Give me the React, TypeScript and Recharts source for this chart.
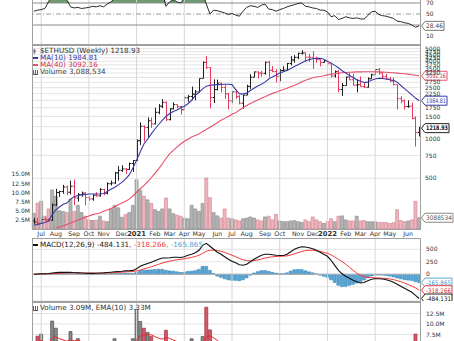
import React from 'react';
import { ComposedChart, Bar, Line, Area, XAxis, YAxis, CartesianGrid, ReferenceLine, ReferenceDot, Cell } from 'recharts';

const FONT = '"DejaVu Sans", Verdana, sans-serif';

const weeks = [
  '2020-06-15','2020-06-22','2020-06-29','2020-07-06','2020-07-13','2020-07-20','2020-07-27','2020-08-03','2020-08-10','2020-08-17',
  '2020-08-24','2020-08-31','2020-09-07','2020-09-14','2020-09-21','2020-09-28','2020-10-05','2020-10-12','2020-10-19','2020-10-26',
  '2020-11-02','2020-11-09','2020-11-16','2020-11-23','2020-11-30','2020-12-07','2020-12-14','2020-12-21','2020-12-28','2021-01-04',
  '2021-01-11','2021-01-18','2021-01-25','2021-02-01','2021-02-08','2021-02-15','2021-02-22','2021-03-01','2021-03-08','2021-03-15',
  '2021-03-22','2021-03-29','2021-04-05','2021-04-12','2021-04-19','2021-04-26','2021-05-03','2021-05-10','2021-05-17','2021-05-24',
  '2021-05-31','2021-06-07','2021-06-14','2021-06-21','2021-06-28','2021-07-05','2021-07-12','2021-07-19','2021-07-26','2021-08-02',
  '2021-08-09','2021-08-16','2021-08-23','2021-08-30','2021-09-06','2021-09-13','2021-09-20','2021-09-27','2021-10-04','2021-10-11',
  '2021-10-18','2021-10-25','2021-11-01','2021-11-08','2021-11-15','2021-11-22','2021-11-29','2021-12-06','2021-12-13','2021-12-20',
  '2021-12-27','2022-01-03','2022-01-10','2022-01-17','2022-01-24','2022-01-31','2022-02-07','2022-02-14','2022-02-21','2022-02-28',
  '2022-03-07','2022-03-14','2022-03-21','2022-03-28','2022-04-04','2022-04-11','2022-04-18','2022-04-25','2022-05-02','2022-05-09',
  '2022-05-16','2022-05-23','2022-05-30','2022-06-06','2022-06-13','2022-06-20',
];

const openP = [
  235,229,225,241,239,237,311,388,395,428,390,434,352,375,384,355,346,370,366,410,
  383,454,460,550,575,590,585,650,685,975,
  1260,1230,1390,1314,1614,1800,1930,1417,1720,1850,
  1790,1690,2090,2140,2230,2320,2950,3920,3580,2100,
  2420,2710,2510,2240,1980,2320,2130,1900,2190,2560,
  3010,3310,3240,3230,3930,3410,3330,3060,3390,3420,
  3850,4090,4290,4610,4640,4300,4290,4200,4120,3920,
  4040,3830,3080,3330,2420,2600,3020,2880,2620,2640,
  2550,2520,2930,3140,3450,3260,3060,2920,2820,2640,
  2060,1980,1790,1800,1450,1130,
];
const highP = [
  248,248,245,250,245,320,415,400,445,440,480,488,385,395,390,365,375,390,420,415,
  465,480,560,620,630,600,660,690,1000,1350,
  1280,1475,1470,1750,1870,2040,1960,1735,1930,1860,
  1810,2140,2200,2550,2400,2950,3980,4380,3590,2900,
  2890,2730,2620,2280,2350,2420,2200,2200,2640,3180,
  3330,3330,3370,3970,4030,3670,3470,3490,3660,3880,
  4380,4460,4650,4870,4680,4560,4780,4350,4130,4110,
  4100,3900,3400,3420,2720,3050,3280,3200,2900,3050,
  2720,3000,3200,3480,3550,3310,3190,3030,3000,2640,
  2150,2030,2000,1920,1500,1250,
];
const lowP = [
  223,216,222,234,230,235,305,360,380,370,375,310,330,360,310,335,335,360,360,370,
  375,440,450,480,560,540,580,560,680,900,
  960,1040,1225,1300,1560,1740,1380,1400,1700,1730,
  1550,1680,1950,2000,2000,2300,2950,3500,1730,1900,
  2380,2300,2050,1700,1900,2050,1860,1720,2190,2450,
  3000,2950,3050,3150,3000,3300,2740,2800,3330,3400,
  3720,3900,4150,4500,3950,3960,3500,3900,3650,3900,
  3600,3000,3000,2300,2160,2600,2850,2600,2300,2550,
  2480,2500,2930,3140,3150,2950,2880,2780,2600,1700,
  1900,1700,1750,1430,880,1050,
];
const closeP = [
  229,225,241,239,237,311,388,395,428,390,434,352,375,384,355,346,370,366,410,383,
  454,460,550,575,590,585,650,685,975,1260,
  1230,1390,1314,1614,1800,1930,1417,1720,1850,1790,
  1690,2090,2140,2230,2320,2950,3920,3580,2100,2420,
  2710,2510,2240,1980,2320,2130,1900,2190,2560,3010,
  3310,3240,3230,3930,3410,3330,3060,3390,3420,3850,
  4090,4290,4610,4640,4300,4290,4200,4120,3920,4040,
  3830,3080,3330,2420,2600,3020,2880,2620,2640,2550,
  2520,2930,3140,3450,3260,3060,2920,2820,2640,2060,
  1980,1790,1800,1450,1130,1218.93,
];
const PREV_CLOSE0 = 226;

const ma10 = [
  218,220,224,228,234,262,285,300,315,322,
  345,360,368,372,375,378,378,378,378,382,
  395,412,425,445,465,495,530,600,690,800,
  920,1000,1100,1200,1300,1400,1500,1580,1640,1680,
  1750,1800,1880,2000,2180,2300,2450,2570,2610,2630,
  2640,2650,2655,2655,2640,2420,2250,2230,2270,2380,
  2480,2580,2660,2760,2920,3030,3130,3250,3320,3400,
  3520,3640,3760,3900,4020,4120,4180,4210,4220,4150,
  4000,3870,3720,3560,3380,3250,3100,3000,2880,2800,
  2740,2760,2860,2920,2960,2950,2920,2880,2850,2760,
  2600,2460,2330,2200,2080,1984.81,
];
const ma40 = [
  null,null,null,null,null,null,206,210,215,220,
  226,232,238,244,250,256,262,266,270,278,
  285,292,300,312,322,333,345,365,390,415,
  440,470,505,545,590,645,710,770,820,870,
  920,965,1000,1040,1070,1100,1150,1190,1240,1290,
  1340,1400,1450,1500,1560,1600,1680,1750,1820,1890,
  1950,2010,2070,2130,2200,2260,2310,2370,2420,2480,
  2540,2600,2680,2780,2850,2920,2980,3020,3050,3090,
  3140,3180,3210,3240,3260,3280,3290,3300,3310,3315,
  3320,3320,3320,3315,3310,3300,3290,3280,3260,3240,
  3220,3200,3180,3150,3120,3092.16,
];

const volume = [
  4.3,7.1,7.6,3.5,5.5,10.7,9.0,5.0,4.8,4.5,
  8.2,4.8,6.5,4.5,3.5,2.5,2.3,2.4,3.5,2.2,
  2.0,5.5,6.5,5.8,3.2,4.0,4.5,6.5,13.5,10.6,
  9.0,8.0,7.0,5.3,4.8,5.5,8.5,5.5,4.2,3.8,
  3.5,3.0,2.8,6.5,5.5,4.8,7.0,14.0,8.6,4.5,
  3.6,3.0,5.5,3.0,2.8,2.5,2.2,2.8,3.0,3.3,
  3.0,2.5,2.2,3.3,3.5,2.5,4.0,2.2,2.0,2.0,
  2.2,2.3,2.0,1.8,2.5,2.0,3.3,2.5,2.0,1.5,
  2.0,2.8,2.0,3.5,3.6,2.5,2.2,2.2,3.5,2.2,
  2.3,2.0,2.0,2.0,1.8,1.8,1.8,1.5,1.7,5.3,
  2.3,2.0,2.2,2.5,7.6,3.088534,
];
const volEma = [
  5.5,5.8,6.1,5.6,5.6,6.5,6.9,6.5,6.2,5.9,
  6.3,6.0,6.1,5.8,5.4,4.9,4.4,4.1,4.0,3.7,
  3.4,3.8,4.3,4.6,4.4,4.3,4.3,4.7,6.3,7.1,
  7.4,7.5,7.4,7.0,6.6,6.4,6.8,6.6,6.2,5.8,
  5.4,5.0,4.6,4.9,5.0,4.9,5.3,6.9,7.2,6.7,
  6.1,5.5,5.5,5.0,4.6,4.2,3.8,3.6,3.5,3.5,
  3.4,3.2,3.0,3.0,3.1,3.0,3.2,3.0,2.8,2.6,
  2.5,2.5,2.4,2.3,2.3,2.2,2.4,2.4,2.3,2.2,
  2.2,2.3,2.2,2.4,2.6,2.6,2.5,2.4,2.6,2.5,
  2.5,2.4,2.3,2.2,2.1,2.1,2.0,1.9,1.9,2.5,
  2.5,2.4,2.4,2.4,3.3,3.33,
];
const rsi = [
  55,57,58,60,72,85,88,84,86,75,
  63,61,62,60,61,62,64,63,65,63,
  68,72,78,80,80,78,82,84,90,92,
  90,91,88,90,91,90,64,72,76,72,
  70,78,79,80,79,84,88,68,50,57,
  56,54,52,49,51,48,46,55,62,65,
  64,62,66,68,59,58,55,58,60,63,
  65,67,69,70,64,63,61,60,57,57,
  54,45,47,40,42,45,43,42,43,41,
  41,47,54,55,49,47,46,44,42,37,
  36,34,33,30,26,28.46,
];
const macdLine = [
  0,5,10,12,15,25,33,38,40,38,
  38,32,28,25,20,18,18,20,25,28,
  35,42,50,55,60,68,72,78,110,160,
  190,215,240,270,300,325,325,330,340,340,
  335,350,380,400,430,480,580,620,560,500,
  440,400,350,300,260,230,190,180,200,250,
  300,340,380,400,400,390,380,375,375,400,
  450,500,530,550,545,530,510,480,440,400,
  360,280,180,80,10,-40,-80,-120,-150,-175,
  -165,-130,-100,-90,-90,-95,-110,-130,-160,-200,
  -240,-280,-320,-360,-420,-484.131,
];
const signalLine = [
  0,2,4,6,8,12,16,20,24,27,
  29,30,30,29,27,25,24,23,23,24,
  26,29,33,37,42,47,52,57,68,86,
  107,129,151,175,200,225,245,262,278,290,
  299,309,323,338,357,381,421,461,481,485,
  476,461,439,411,381,351,319,291,273,268,
  274,287,306,325,340,350,356,360,363,370,
  386,409,433,456,474,480,480,472,458,440,
  420,390,345,300,255,200,140,80,25,-20,
  -50,-60,-65,-70,-74,-78,-84,-93,-107,-126,
  -149,-175,-204,-235,-272,-318.266,
];
const macdHist = [
  0,3,6,6,7,13,17,18,16,11,
  9,2,-2,-4,-7,-7,-6,-3,2,4,
  9,13,17,18,18,21,20,21,42,74,
  83,86,89,95,100,100,80,68,62,50,
  36,41,57,62,73,99,159,159,79,15,
  -36,-61,-89,-111,-121,-121,-129,-111,-73,-18,
  26,53,74,75,60,40,24,15,12,30,
  64,91,97,94,71,50,30,8,-18,-40,
  -60,-110,-165,-220,-245,-240,-220,-200,-175,-155,
  -115,-70,-35,-20,-16,-17,-26,-37,-53,-74,
  -91,-105,-116,-125,-148,-165.865,
];

const monthTicks = [
  '2020-06-29','2020-07-27','2020-08-31','2020-09-28','2020-10-26','2020-11-30','2020-12-28',
  '2021-02-01','2021-03-01','2021-03-29','2021-04-26','2021-05-31','2021-06-28','2021-07-26',
  '2021-08-30','2021-09-27','2021-11-01','2021-11-29','2021-12-27',
  '2022-01-31','2022-02-28','2022-03-28','2022-04-25','2022-05-30',
];
const monthLabels = [
  'Jul','Aug','Sep','Oct','Nov','Dec','2021',
  'Feb','Mar','Apr','May','Jun','Jul','Aug',
  'Sep','Oct','Nov','Dec','2022',
  'Feb','Mar','Apr','May','Jun',
];
const quarterWeeks = ['2020-06-29','2020-09-28','2020-12-28','2021-03-29','2021-06-28','2021-09-27','2021-12-27','2022-03-28'];
const priceTicks = [500,750,1000,1250,1500,1750,2000,2250,2500,2750,3000,3250,3500,3750,4000,4250,4500,4750,5000];
const priceTicksUnderBoxes = [1250, 2000, 3000];
const volTicks = [2.5,5,7.5,10,12.5,15];
const lowerVolTicks = [7.5,10,12.5];
const macdTicks = [-250,0,250,500];
const rsiTicks = [10,30,50,70];

const rows = weeks.map((w, i) => ({
  w,
  open: openP[i], high: highP[i], low: lowP[i], close: closeP[i],
  ma10: ma10[i], ma40: ma40[i],
  vol: volume[i], ema: volEma[i], rsi: rsi[i],
  macd: macdLine[i], sig: signalLine[i], hist: macdHist[i],
  up: closeP[i] >= (i > 0 ? closeP[i - 1] : PREV_CLOSE0),
}));
const last = weeks[weeks.length - 1];
const labelOf: Record<string, string> = {};
monthTicks.forEach((m, i) => { labelOf[m] = monthLabels[i]; });

const W = 454;
const LEFT = 32;
const RIGHT_W = 33;
const GRID = '#e4e4e4';
const QGRID = '#d6d6d6';
const RED = '#e63a5e';
const BLUE = '#3a3aa8';
const MA40C = '#e8506e';

const OhlcShape = (props: any) => {
  const { x, y, width, height, payload } = props;
  if (x == null || y == null || height == null || !payload) return null;
  const top = Math.min(y, y + height);
  const bot = Math.max(y, y + height);
  const cx = Math.round(x + width / 2) + 0.5;
  const lh = Math.log(payload.high);
  const ll = Math.log(payload.low);
  const yOf = (v: number) => top + (bot - top) * (lh - Math.log(v)) / ((lh - ll) || 1);
  const color = payload.up ? '#1e1e1e' : RED;
  return (
    <g stroke={color} strokeWidth={1}>
      <line x1={cx} x2={cx} y1={top} y2={bot} />
      <line x1={cx - 1.8} x2={cx} y1={yOf(payload.open)} y2={yOf(payload.open)} />
      <line x1={cx} x2={cx + 1.8} y1={yOf(payload.close)} y2={yOf(payload.close)} />
    </g>
  );
};

function makeBox(text: string, border: string, color: string, w: number, bold = false) {
  return (props: any) => {
    const { cx, cy } = props;
    if (cx == null || cy == null) return <g />;
    const x0 = LEFT + 389 + 0.5;
    const h = 4.5;
    return (
      <g>
        <path d={`M${x0},${cy}L${x0 + 3.5},${cy - h}L${x0 + 3.5 + w},${cy - h}L${x0 + 3.5 + w},${cy + h}L${x0 + 3.5},${cy + h}Z`} fill="#fff" stroke={border} strokeWidth={1} />
        <text x={x0 + 4.6} y={cy + 2.3} fontSize={6.3} fontFamily={FONT} fill={color} fontWeight={bold ? 700 : 400} textLength={w - 2.2} lengthAdjust="spacingAndGlyphs">{text}</text>
      </g>
    );
  };
}

const MonthTick = (props: any) => {
  const { x, y, payload } = props;
  const label = labelOf[payload.value] || '';
  const bold = label.length === 4;
  return (
    <text x={x} y={y + 7} textAnchor="middle" fontSize={bold ? 6.8 : 6.3} fontWeight={bold ? 700 : 400} fill="#333" fontFamily={FONT}>{label}</text>
  );
};

const tickStyle = { fontSize: 6, fill: '#333', fontFamily: FONT };

const Frame = ({ top, height }: { top: number; height: number }) => (
  <div style={{ position: 'absolute', left: LEFT, top, width: 389, height, border: '1px solid #a0a0a0', boxSizing: 'border-box', pointerEvents: 'none' }} />
);

const textStyle: React.CSSProperties = { position: 'absolute', fontFamily: FONT, fontSize: 7.2, lineHeight: '7px', whiteSpace: 'nowrap', color: '#333' };

const barIcon: React.CSSProperties = { display: 'inline-block', width: 5, height: 4, borderBottom: '1px solid #555', background: 'linear-gradient(90deg,#666 0 1px,transparent 1px 2px,#666 2px 3px,transparent 3px 4px,#666 4px 5px)', verticalAlign: 'middle', marginRight: 2 };

export default function App() {
  return (
    <div style={{ position: 'absolute', left: 0, top: 0, width: W, height: 341, overflow: 'hidden', background: '#fff' }}>
      {/* RSI panel */}
      <div style={{ position: 'absolute', left: 0, top: -16 }}>
        <ComposedChart width={W} height={60} data={rows} margin={{ top: 0, right: 0, bottom: 0, left: LEFT }}>
          <XAxis dataKey="w" hide scale="band" />
          <YAxis yAxisId="r" orientation="right" width={RIGHT_W} domain={[-4.5, 104.5]} ticks={rsiTicks} interval={0} tickLine={false} axisLine={false} tickSize={0} tickMargin={5} tick={tickStyle} tickFormatter={(v: number) => (v === 30 ? '' : String(v))} />
          {quarterWeeks.map((q) => <ReferenceLine key={q} x={q} yAxisId="r" stroke={QGRID} strokeWidth={1} />)}
          <ReferenceLine y={70} yAxisId="r" stroke="#8a8a8a" />
          <ReferenceLine y={50} yAxisId="r" stroke="#9a9a9a" strokeDasharray="5 2 1 2" />
          <ReferenceLine y={30} yAxisId="r" stroke="#8a8a8a" />
          <Area yAxisId="r" type="linear" dataKey={(d: any) => [70, Math.max(70, d.rsi)]} fill="#6f9c6f" fillOpacity={1} stroke="none" isAnimationActive={false} />
          <Line yAxisId="r" type="linear" dataKey="rsi" stroke="#2a2a2a" strokeWidth={1} dot={false} isAnimationActive={false} />
          <ReferenceDot yAxisId="r" x={last} y={28.46} r={0} ifOverflow="visible" shape={makeBox('28.46', '#777', '#444', 19)} />
        </ComposedChart>
      </div>
      <Frame top={-16} height={61} />

      {/* Price panel */}
      <div style={{ position: 'absolute', left: 0, top: 45 }}>
        <ComposedChart width={W} height={193} data={rows} margin={{ top: 0, right: 0, bottom: 0, left: 0 }} barCategoryGap="8%">
          <XAxis xAxisId="v" dataKey="w" hide scale="band" />
          <XAxis xAxisId="p" dataKey="w" scale="band" height={9} ticks={monthTicks} interval={0} tickLine={false} axisLine={false} tickSize={0} tickMargin={0} tick={<MonthTick />} />
          <YAxis yAxisId="vol" orientation="left" width={LEFT} domain={[0, 50.5]} ticks={volTicks} interval={0} tickLine={false} axisLine={false} tickSize={0} tickMargin={2} tick={tickStyle} tickFormatter={(v: number) => `${v.toFixed(1)}M`} />
          <YAxis yAxisId="price" orientation="right" width={RIGHT_W} scale="log" domain={[203, 5340]} allowDataOverflow ticks={priceTicks} interval={0} tickLine={false} axisLine={false} tickSize={0} tickMargin={4} tick={tickStyle} tickFormatter={(v: number) => (priceTicksUnderBoxes.includes(v) ? '' : String(v))} />
          <CartesianGrid xAxisId="p" yAxisId="price" vertical={false} stroke={GRID} />
          {quarterWeeks.map((q) => <ReferenceLine key={q} x={q} xAxisId="p" yAxisId="price" stroke={QGRID} strokeWidth={1} />)}
          <Bar xAxisId="v" yAxisId="vol" dataKey="vol" isAnimationActive={false} strokeWidth={0.7}>
            {rows.map((r, i) => (
              <Cell key={i} fill={r.up ? '#b4b4b4' : '#edb5bd'} stroke={r.up ? '#8e8e8e' : '#d58893'} />
            ))}
          </Bar>
          <Line xAxisId="p" yAxisId="price" type="linear" dataKey="ma40" stroke={MA40C} strokeWidth={1.1} dot={false} isAnimationActive={false} connectNulls={false} />
          <Line xAxisId="p" yAxisId="price" type="linear" dataKey="ma10" stroke={BLUE} strokeWidth={1.1} dot={false} isAnimationActive={false} />
          <Bar xAxisId="p" yAxisId="price" dataKey={(d: any) => [d.low, d.high]} shape={<OhlcShape />} isAnimationActive={false} />
          <ReferenceDot xAxisId="v" yAxisId="vol" x={last} y={3.088534} r={0} ifOverflow="visible" shape={makeBox('3088534', '#888', '#555', 28)} />
          <ReferenceDot xAxisId="p" yAxisId="price" x={last} y={3092.16} r={0} ifOverflow="visible" shape={makeBox('3092.16', MA40C, '#c02848', 22)} />
          <ReferenceDot xAxisId="p" yAxisId="price" x={last} y={1984.81} r={0} ifOverflow="visible" shape={makeBox('1984.81', BLUE, BLUE, 22)} />
          <ReferenceDot xAxisId="p" yAxisId="price" x={last} y={1218.93} r={0} ifOverflow="visible" shape={makeBox('1218.93', '#222', '#111', 24, true)} />
        </ComposedChart>
      </div>
      <Frame top={45} height={185} />

      <div style={{ ...textStyle, left: 33, top: 47.2 }}>
        <span style={{ display: 'inline-block', width: 6, fontSize: 6, color: '#333' }}>ǂ</span>
        <span style={{ paddingLeft: 1 }}>$ETHUSD (Weekly) 1218.93</span>
      </div>
      <div style={{ ...textStyle, left: 33, top: 54, color: BLUE }}>
        <span style={{ display: 'inline-block', width: 5, height: 1.5, background: BLUE, verticalAlign: 'middle', marginRight: 2 }} />MA(10) 1984.81
      </div>
      <div style={{ ...textStyle, left: 33, top: 61, color: '#d0304f' }}>
        <span style={{ display: 'inline-block', width: 5, height: 1.5, background: MA40C, verticalAlign: 'middle', marginRight: 2 }} />MA(40) 3092.16
      </div>
      <div style={{ ...textStyle, left: 33, top: 68.4, color: '#444' }}>
        <span style={barIcon} />Volume 3,088,534
      </div>

      {/* MACD panel */}
      <div style={{ position: 'absolute', left: 0, top: 238 }}>
        <ComposedChart width={W} height={63} data={rows} margin={{ top: 0, right: 0, bottom: 0, left: LEFT }} barCategoryGap="6%">
          <XAxis dataKey="w" hide scale="band" />
          <YAxis yAxisId="m" orientation="right" width={RIGHT_W} domain={[-534, 726]} ticks={macdTicks} interval={0} tickLine={false} axisLine={false} tickSize={0} tickMargin={5} tick={tickStyle} tickFormatter={(v: number) => (v === -250 ? '' : String(v))} />
          <CartesianGrid yAxisId="m" vertical={false} stroke={GRID} />
          {quarterWeeks.map((q) => <ReferenceLine key={q} x={q} yAxisId="m" stroke={QGRID} strokeWidth={1} />)}
          <ReferenceLine y={0} yAxisId="m" stroke="#b0b0b0" />
          <Bar yAxisId="m" dataKey="hist" fill="#55a6d6" stroke="#2f7fb3" strokeWidth={0.5} isAnimationActive={false} />
          <Line yAxisId="m" type="linear" dataKey="sig" stroke="#f03a3a" strokeWidth={1} dot={false} isAnimationActive={false} />
          <Line yAxisId="m" type="linear" dataKey="macd" stroke="#111" strokeWidth={1.1} dot={false} isAnimationActive={false} />
          <ReferenceDot yAxisId="m" x={last} y={-165.865} r={0} ifOverflow="visible" shape={makeBox('-165.865', '#5aa9d6', '#3b8fc4', 27)} />
          <ReferenceDot yAxisId="m" x={last} y={-318.266} r={0} ifOverflow="visible" shape={makeBox('-318.266', '#f03a3a', '#d02020', 27)} />
          <ReferenceDot yAxisId="m" x={last} y={-484.131} r={0} ifOverflow="visible" shape={makeBox('-484.131', '#222', '#111', 27)} />
        </ComposedChart>
      </div>
      <Frame top={238} height={64} />
      <div style={{ ...textStyle, left: 33, top: 241, color: '#222' }}>
        <span style={{ display: 'inline-block', width: 5, height: 1.5, background: '#111', verticalAlign: 'middle', marginRight: 2 }} />MACD(12,26,9) -484.131<span style={{ color: '#f03a3a' }}>, -318.266</span><span style={{ color: '#4aa3d8' }}>, -165.865</span>
      </div>

      {/* Lower volume panel */}
      <div style={{ position: 'absolute', left: 0, top: 302 }}>
        <ComposedChart width={W} height={64} data={rows} margin={{ top: 0, right: 0, bottom: 0, left: LEFT }} barCategoryGap="8%">
          <XAxis dataKey="w" hide scale="band" />
          <YAxis yAxisId="lv" orientation="right" width={RIGHT_W} domain={[0, 15.24]} ticks={lowerVolTicks} interval={0} tickLine={false} axisLine={false} tickSize={0} tickMargin={5} tick={tickStyle} tickFormatter={(v: number) => `${v.toFixed(1)}M`} />
          <CartesianGrid yAxisId="lv" vertical={false} stroke={GRID} />
          {quarterWeeks.map((q) => <ReferenceLine key={q} x={q} yAxisId="lv" stroke={QGRID} strokeWidth={1} />)}
          <Bar yAxisId="lv" dataKey="vol" isAnimationActive={false} strokeWidth={0.7}>
            {rows.map((r, i) => (
              <Cell key={i} fill={r.up ? '#8a8a8a' : '#d25a6a'} stroke={r.up ? '#4a4a4a' : '#a02a3a'} />
            ))}
          </Bar>
          <Line yAxisId="lv" type="linear" dataKey="ema" stroke="#f02828" strokeWidth={1} dot={false} isAnimationActive={false} />
        </ComposedChart>
      </div>
      <Frame top={302} height={64} />
      <div style={{ ...textStyle, left: 33, top: 304.4, color: '#333' }}>
        <span style={barIcon} />Volume 3.09M, EMA(10) 3.33M
      </div>
    </div>
  );
}
